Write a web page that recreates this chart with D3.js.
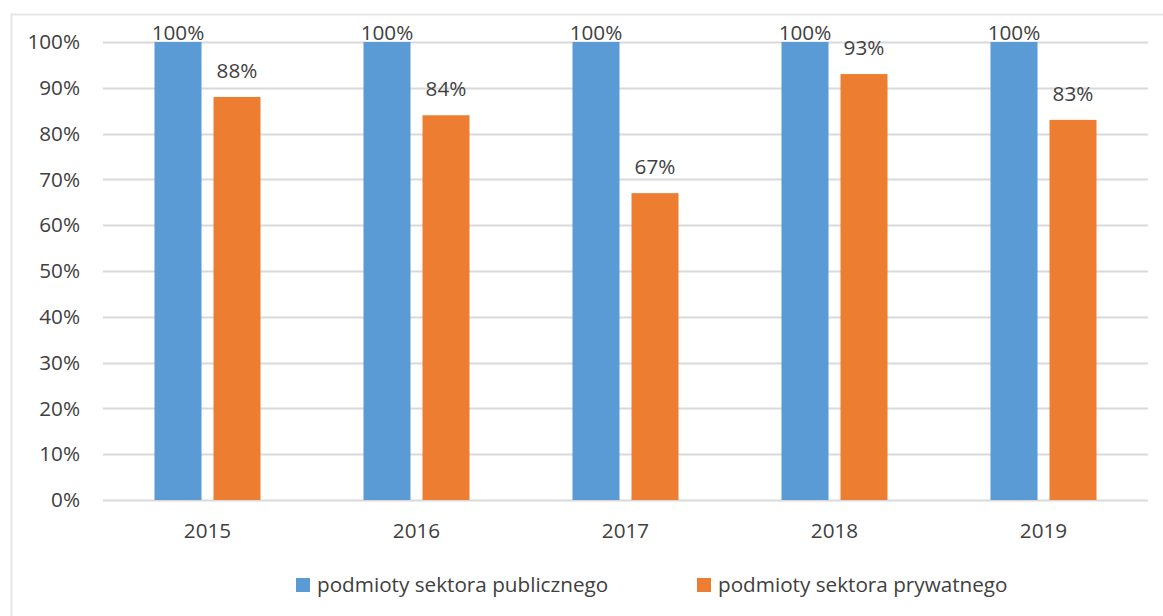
<!DOCTYPE html>
<html>
<head>
<meta charset="utf-8">
<script src="https://cdn.jsdelivr.net/npm/d3@7"></script>
<style>
  html, body { margin: 0; padding: 0; background: #fff; }
  svg { display: block; }
  text { font-family: "Open Sans", "Noto Sans", sans-serif; fill: #404040; }
</style>
</head>
<body>
<svg id="chart" width="1163" height="616"></svg>
<script>
// Share of entities, by year and sector
const years = ["2015", "2016", "2017", "2018", "2019"];
const seriesNames = ["podmioty sektora publicznego", "podmioty sektora prywatnego"];
const publicValues = [100, 100, 100, 100, 100];
const privateValues = [88, 84, 67, 93, 83];
const yTicks = [0, 10, 20, 30, 40, 50, 60, 70, 80, 90, 100];
const colors = ["#5B9BD5", "#ED7D31"];

const svg = d3.select("#chart");
const W = 1163, H = 616;
const plot = { left: 103, right: 1148, top: 42, bottom: 500 };
const fontSize = "20.7px";

// outer chart frame (top and left edges)
svg.append("path")
  .attr("d", `M11.5,${H} V14.5 H${W}`)
  .attr("fill", "none")
  .attr("stroke", "#e6e6e6")
  .attr("stroke-width", 2);

const x = d3.scaleBand().domain(years).range([plot.left, plot.right]).padding(0);
const y = d3.scaleLinear().domain([0, 100]).range([plot.bottom, plot.top]);
const barW = 47, barGap = 12;
const groupW = 2 * barW + barGap;

// gridlines
svg.append("g")
  .selectAll("line")
  .data(yTicks)
  .join("line")
  .attr("x1", plot.left).attr("x2", plot.right)
  .attr("y1", d => Math.round(y(d)) + 0.5).attr("y2", d => Math.round(y(d)) + 0.5)
  .attr("stroke", "#d9d9d9").attr("stroke-width", 2);

// y axis labels
const yAxis = d3.axisLeft(y).tickValues(yTicks).tickFormat(d => d + "%").tickSize(0).tickPadding(23);
const yg = svg.append("g").attr("transform", `translate(${plot.left},0)`).call(yAxis);
yg.select(".domain").remove();
yg.selectAll("text").style("font-size", fontSize).attr("fill", "#404040").attr("font-family", null);

// x axis labels
const xAxis = d3.axisBottom(x).tickSize(0).tickPadding(23);
const xg = svg.append("g").attr("transform", `translate(0,${plot.bottom})`).call(xAxis);
xg.select(".domain").remove();
xg.selectAll("text").style("font-size", fontSize).attr("fill", "#404040").attr("font-family", null);

const rows = years.map((yr, i) => ({ year: yr, values: [publicValues[i], privateValues[i]] }));

const groups = svg.append("g")
  .selectAll("g")
  .data(rows)
  .join("g")
  .attr("transform", d => `translate(${x(d.year) + (x.bandwidth() - groupW) / 2},0)`);

const bars = groups.selectAll("g.bar")
  .data(d => d.values.map((v, k) => ({ v, k })))
  .join("g").attr("class", "bar");

bars.append("rect")
  .attr("x", d => d.k * (barW + barGap))
  .attr("width", barW)
  .attr("y", d => y(d.v))
  .attr("height", d => y(0) - y(d.v))
  .attr("fill", d => colors[d.k]);

// value labels above bars, kept inside the plot's top edge
bars.append("text")
  .attr("x", d => d.k * (barW + barGap) + barW / 2)
  .attr("y", d => Math.max(y(d.v) - 19, plot.top - 2))
  .attr("text-anchor", "middle")
  .style("font-size", fontSize)
  .text(d => d.v + "%");

// legend
const legendX = [296, 697];
const lg = svg.append("g")
  .selectAll("g")
  .data(seriesNames)
  .join("g")
  .attr("transform", (d, i) => `translate(${legendX[i]},578)`);
lg.append("rect").attr("width", 14).attr("height", 14).attr("fill", (d, i) => colors[i]);
lg.append("text").attr("x", 21).attr("y", 14).style("font-size", fontSize).text(d => d);
</script>
</body>
</html>
